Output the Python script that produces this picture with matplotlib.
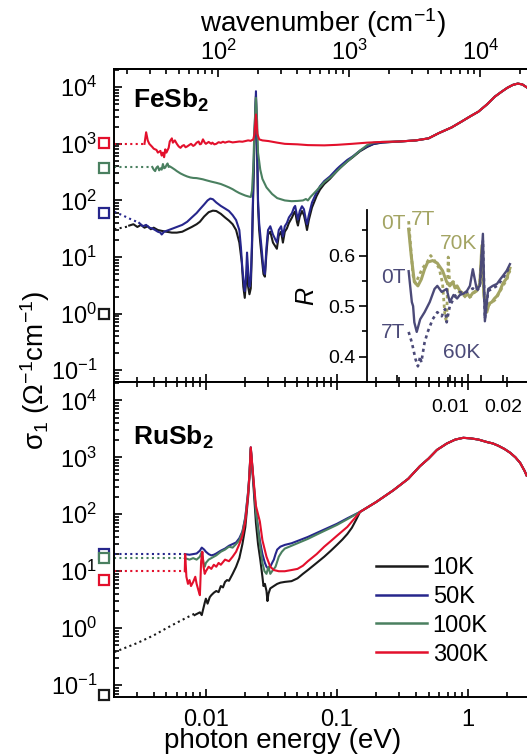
import matplotlib
matplotlib.use("Agg")
import matplotlib.pyplot as plt
import matplotlib.ticker as mticker
from matplotlib.transforms import blended_transform_factory
from matplotlib.lines import Line2D

plt.rcParams['font.family'] = ['Liberation Sans', 'DejaVu Sans']
plt.rcParams['mathtext.fontset'] = 'custom'
plt.rcParams['mathtext.rm'] = 'Liberation Sans'
plt.rcParams['mathtext.it'] = 'Liberation Sans:italic'
plt.rcParams['mathtext.bf'] = 'Liberation Sans:bold'

# ---------------- data ----------------
temps = ['10K', '50K', '100K', '300K']
colors = ['#1a1a1a', '#26268c', '#4a8060', '#e3102c']

# FeSb2 (top panel)
fe_dc = [1.0, 60, 380, 1050]            # squares (10K, 50K, 100K, 300K)
fe_dot_E = [[0.002, 0.0023, 0.0026],
            [0.002, 0.0023, 0.0026, 0.0029, 0.0031],
            [0.002, 0.0039],
            [0.002, 0.0034]]
fe_dot_S = [[31, 33, 35],
            [63, 55, 48, 43, 40],
            [390, 390],
            [1000, 1000]]

hi_E = [0.3, 0.4, 0.5, 0.6, 0.75, 0.9, 1.05, 1.2, 1.4, 1.6, 1.8, 2.0, 2.2, 2.4, 2.6, 2.8]
hi_S = [1100, 1150, 1250, 1550, 1950, 2500, 3100, 3700, 5000, 6800, 8300, 9800, 11000, 11600, 11200, 10000]

fe_E_10K = [0.0026, 0.0028, 0.003, 0.0032, 0.0034, 0.0036, 0.0038, 0.004, 0.0043, 0.0046, 0.005, 0.0055,
            0.006, 0.0066, 0.0072, 0.0078, 0.0085, 0.009, 0.0097, 0.0105, 0.0113, 0.012, 0.013, 0.014,
            0.015, 0.016, 0.017, 0.018, 0.0188, 0.0193, 0.0198, 0.0202, 0.0206, 0.021, 0.0215, 0.022,
            0.0225, 0.023, 0.0235, 0.0241, 0.0246, 0.025, 0.0255, 0.026, 0.0268, 0.0275, 0.0282, 0.029,
            0.0298, 0.031, 0.0325, 0.0348, 0.036, 0.0375, 0.0387, 0.04, 0.0415, 0.043, 0.0454, 0.047,
            0.048, 0.0495, 0.0504, 0.052, 0.0541, 0.056, 0.058, 0.0591, 0.061, 0.0645, 0.07, 0.0742,
            0.08, 0.0883, 0.1, 0.105, 0.12, 0.132, 0.15, 0.17, 0.19, 0.22]
fe_S_10K = [36, 38, 34, 37, 33, 35, 31, 33, 30, 29, 28, 27,
            27, 28, 31, 34, 38, 42, 52, 62, 66, 65, 58, 50,
            44, 38, 30, 18, 8, 3, 1.9, 3.5, 6, 3, 2.2, 2.8,
            15, 150, 1200, 7000, 800, 80, 30, 18, 9, 5, 4.5, 12,
            25, 28, 18, 14, 24, 28, 18, 28, 32, 40, 50, 60,
            64, 42, 36, 52, 65, 55, 38, 30, 45, 75, 120, 155,
            195, 240, 330, 370, 490, 580, 740, 880, 990, 1050]
fe_E_50K = [0.0031, 0.0033, 0.0035, 0.0037, 0.0039, 0.0041, 0.0043, 0.0045, 0.0046, 0.0048, 0.0052, 0.0056,
            0.006, 0.0066, 0.0072, 0.0078, 0.0085, 0.009, 0.0097, 0.0103, 0.0108, 0.0113, 0.012, 0.013,
            0.014, 0.015, 0.016, 0.017, 0.018, 0.0185, 0.019, 0.0195, 0.0198, 0.0202, 0.0206, 0.021,
            0.0215, 0.022, 0.0225, 0.023, 0.0235, 0.0241, 0.0246, 0.025, 0.0255, 0.026, 0.0268, 0.0275,
            0.0282, 0.029, 0.0298, 0.031, 0.0325, 0.0348, 0.036, 0.0375, 0.0387, 0.04, 0.0415, 0.043,
            0.0454, 0.047, 0.048, 0.0495, 0.0504, 0.052, 0.0541, 0.056, 0.058, 0.0591, 0.061, 0.0645,
            0.07, 0.0742, 0.08, 0.0883, 0.1, 0.105, 0.12, 0.132, 0.15, 0.17, 0.19, 0.22]
fe_S_50K = [40, 35, 37, 33, 32, 30, 28, 27, 25, 28, 30, 32,
            34, 37, 42, 50, 60, 70, 85, 100, 108, 105, 92, 80,
            72, 65, 55, 45, 30, 15, 6, 3.5, 2.5, 4, 12, 6,
            3, 4, 20, 200, 1500, 8500, 1000, 100, 40, 25, 12, 6,
            5, 15, 30, 35, 25, 18, 30, 35, 23, 35, 40, 50,
            60, 75, 80, 55, 46, 65, 79, 70, 45, 38, 55, 92,
            140, 178, 220, 265, 360, 400, 520, 600, 760, 900, 1000, 1060]
fe_E_100K = [0.0039, 0.004, 0.0041, 0.0042, 0.0043, 0.0044, 0.0045, 0.0046, 0.0047, 0.0048, 0.0049,
             0.005, 0.0051, 0.0052, 0.0053, 0.0055, 0.0058, 0.006,
             0.0064, 0.0068, 0.0072, 0.0076, 0.008, 0.0085, 0.009, 0.0095, 0.01, 0.011, 0.012, 0.013,
             0.014, 0.015, 0.016, 0.017, 0.018, 0.019, 0.02, 0.021, 0.022, 0.0225, 0.023, 0.0235,
             0.0241, 0.0246, 0.025, 0.026, 0.027, 0.029, 0.032, 0.035, 0.04, 0.045, 0.05, 0.055,
             0.058, 0.06, 0.063, 0.07, 0.08, 0.09, 0.1, 0.11, 0.13, 0.15, 0.17, 0.19, 0.22]
fe_S_100K = [390, 350, 330, 380, 400, 340, 370, 350, 440, 370, 380,
             420, 450, 390, 400, 380, 350, 330,
             300, 280, 265, 255, 250, 248, 242, 236, 228, 215, 205, 195,
             182, 170, 158, 145, 135, 128, 122, 118, 115, 150, 400, 2000,
             6500, 2500, 700, 350, 240, 170, 130, 110, 100, 97, 98, 100,
             106, 100, 116, 150, 210, 260, 330, 410, 570, 760, 950, 1050, 1080]
fe_E_300K = [0.0034, 0.0035, 0.0036, 0.0037, 0.0039, 0.004, 0.0042, 0.0043, 0.0045, 0.0046, 0.0047,
             0.0048, 0.0049, 0.005, 0.0052, 0.0053, 0.0055, 0.0056, 0.0058, 0.006, 0.0062,
             0.0064, 0.0066, 0.0068, 0.007, 0.0072, 0.0075, 0.0077, 0.008, 0.0082, 0.0085, 0.0088,
             0.009, 0.0092, 0.0095, 0.0098, 0.01, 0.0105, 0.011, 0.0112, 0.0116, 0.012,
             0.0125, 0.013, 0.0135, 0.014, 0.0145, 0.015, 0.016, 0.017, 0.018, 0.019, 0.02, 0.021, 0.022,
             0.023, 0.0235, 0.0241, 0.0247, 0.0255, 0.027,
             0.03, 0.035, 0.04, 0.05, 0.06, 0.08, 0.1, 0.13, 0.17, 0.22]
fe_S_300K = [1000, 1600, 1150, 1000, 880, 820, 780, 700, 750, 620, 700,
             580, 800, 700, 850, 1100, 1250, 1050, 1150, 1000, 900,
             850, 920, 950, 870, 900, 960, 1000, 920, 950, 1050, 1100,
             980, 1000, 1200, 1050, 1000, 1080, 1000, 1050, 980, 1000,
             1070, 1040, 1090, 1050, 1080, 1100, 1060, 1080, 1100, 1090, 1120, 1150, 1130,
             1200, 1500, 3300, 1500, 1200, 1150,
             1120, 1050, 1000, 980, 950, 940, 960, 1000, 1050, 1080]

# RuSb2 (bottom panel)
ru_dc = [0.068, 20, 17, 7]
ru_dot_E = [[0.002, 0.003, 0.004, 0.005, 0.006, 0.007, 0.0082],
            [0.002, 0.0069],
            [0.002, 0.0069],
            [0.002, 0.0069]]
ru_dot_S = [[0.38, 0.55, 0.75, 1.0, 1.25, 1.5, 1.8],
            [20, 20],
            [17, 17],
            [10, 10]]

ru_hi_E = [0.15, 0.2, 0.27, 0.35, 0.43, 0.5, 0.58, 0.69, 0.8, 0.92, 1.05, 1.2, 1.4, 1.55, 1.7, 1.9,
           2.1, 2.3, 2.5, 2.7, 2.8]
ru_hi_S = [110, 165, 265, 420, 700, 950, 1350, 1750, 2050, 2200, 2150, 2050, 1850, 1750, 1600, 1400,
           1200, 1000, 800, 580, 480]

ru_E_10K = [0.0082, 0.0086, 0.009, 0.0093, 0.0096, 0.0098, 0.01, 0.0103, 0.0107, 0.011, 0.0115, 0.012,
            0.0125, 0.013, 0.0135, 0.014, 0.0145, 0.015, 0.016, 0.017, 0.018, 0.019, 0.02, 0.021,
            0.0215, 0.022, 0.023, 0.0241, 0.025, 0.026, 0.027, 0.0275, 0.0282, 0.029, 0.0295, 0.03,
            0.031, 0.033, 0.035, 0.037, 0.04, 0.045, 0.05, 0.055, 0.06, 0.07, 0.08, 0.09, 0.1, 0.11,
            0.12, 0.13, 0.14]
ru_S_10K = [1.7, 1.8, 1.9, 1.7, 2.3, 2.8, 3.3, 2.7, 3.5, 3.8, 4.2, 4.5,
            4.3, 5.5, 5.2, 6.5, 7, 6.8, 9, 12, 17, 30, 60, 200,
            450, 1400, 350, 70, 30, 16, 8, 5.5, 6, 4.5, 3, 4,
            5, 5.5, 6, 6.3, 6.5, 6.7, 7.5, 9, 10.5, 14, 18, 23, 29, 36,
            45, 58, 80]
ru_E_50K = [0.0069, 0.0075, 0.008, 0.0085, 0.009, 0.0093, 0.0097, 0.01, 0.0105, 0.011, 0.0115, 0.012,
            0.013, 0.014, 0.015, 0.016, 0.017, 0.018, 0.019, 0.02, 0.021, 0.0215, 0.022, 0.023, 0.0241,
            0.0258, 0.027, 0.0282, 0.029, 0.03, 0.031, 0.032, 0.033, 0.034, 0.035, 0.037, 0.04, 0.045,
            0.05, 0.06, 0.07, 0.08, 0.1, 0.12]
ru_S_50K = [20, 19.5, 20, 20.5, 23, 26, 24, 22, 20, 19, 19.5, 20.5,
            23, 25, 28, 30, 32, 38, 50, 90, 250, 500, 1500, 420, 110,
            35, 20, 14, 12, 11, 12, 14, 16, 20, 24, 27, 29, 31,
            34, 40, 47, 54, 68, 85]
ru_E_100K = [0.0069, 0.0075, 0.008, 0.0085, 0.009, 0.0093, 0.0096, 0.0098, 0.01, 0.0105, 0.011, 0.012,
             0.013, 0.014, 0.015, 0.016, 0.017, 0.018, 0.019, 0.02, 0.021, 0.0215, 0.022, 0.023, 0.0241,
             0.0258, 0.027, 0.028, 0.029, 0.03, 0.031, 0.032, 0.034, 0.036, 0.038, 0.04, 0.045, 0.05,
             0.06, 0.07, 0.08, 0.1, 0.12]
ru_S_100K = [17, 16, 17, 16, 18, 22, 14, 12, 14, 16, 17, 19,
             22, 24, 27, 26, 30, 35, 48, 85, 240, 500, 1450, 420, 110,
             30, 14, 10, 9, 12, 9, 10, 12, 18, 22, 25, 28, 31,
             37, 44, 51, 65, 82]
ru_E_300K = [0.0069, 0.00695, 0.0071, 0.0073, 0.0075, 0.0077, 0.008, 0.0083, 0.0085, 0.0088, 0.009, 0.0092,
             0.0094, 0.0096, 0.0098, 0.01, 0.0105, 0.011, 0.0115, 0.012, 0.0125, 0.013, 0.014, 0.015,
             0.016, 0.017, 0.018, 0.019, 0.02, 0.021, 0.0215, 0.022, 0.023, 0.0241, 0.0258, 0.027,
             0.029, 0.031, 0.033, 0.036, 0.04, 0.045, 0.05, 0.055, 0.06, 0.07, 0.08, 0.09, 0.1, 0.12]
ru_S_300K = [10, 20, 8, 6, 7, 5.5, 6.5, 8, 6, 4.5, 3.8, 15,
             22, 12, 9, 10, 12, 11, 13, 12, 14, 13, 16, 15,
             18, 22, 30, 42, 75, 220, 500, 1500, 450, 140, 75, 35,
             18, 12, 10.5, 10, 10, 10.5, 11, 12.5, 15, 20, 27, 34, 42, 60]

# inset: reflectivity (FeSb2)
in_E_70K_0T = [0.00585, 0.00605, 0.0063, 0.0066, 0.0069, 0.0072, 0.0075, 0.008, 0.0085, 0.0091, 0.0096,
               0.01, 0.0104, 0.0107, 0.011, 0.0114, 0.0118, 0.0122, 0.0126, 0.013, 0.0135, 0.0142,
               0.0148, 0.0152, 0.0156, 0.0162, 0.0167, 0.0173, 0.0179, 0.0185, 0.0192, 0.02, 0.021, 0.0219]
in_R_70K_0T = [0.652, 0.600, 0.548, 0.540, 0.553, 0.573, 0.587, 0.590, 0.585, 0.570, 0.548,
               0.540, 0.548, 0.536, 0.540, 0.530, 0.526, 0.520, 0.524, 0.518, 0.526, 0.530,
               0.545, 0.620, 0.520, 0.488, 0.505, 0.508, 0.515, 0.520, 0.530, 0.545, 0.555, 0.575]
in_E_70K_7T = [0.00585, 0.006, 0.0062, 0.0064, 0.0067, 0.007, 0.0074, 0.0078, 0.0082, 0.0087, 0.0091,
               0.0094, 0.0096, 0.0098, 0.01, 0.0105, 0.011, 0.0117, 0.0125, 0.0133, 0.014, 0.0147,
               0.0152, 0.0156, 0.0162, 0.017, 0.018, 0.019, 0.02, 0.021, 0.0219]
in_R_70K_7T = [0.668, 0.620, 0.560, 0.545, 0.560, 0.575, 0.585, 0.600, 0.590, 0.575, 0.545,
               0.478, 0.470, 0.597, 0.540, 0.548, 0.530, 0.525, 0.515, 0.520, 0.530, 0.540,
               0.600, 0.525, 0.498, 0.505, 0.512, 0.525, 0.540, 0.552, 0.570]
in_E_60K_0T = [0.00585, 0.0061, 0.0062, 0.0063, 0.0065, 0.0068, 0.0072, 0.0077, 0.0082, 0.0085, 0.009,
               0.0096, 0.01, 0.0105, 0.011, 0.0114, 0.012, 0.0125, 0.013, 0.0135, 0.0142, 0.0148,
               0.0154, 0.0158, 0.0165, 0.0175, 0.0185, 0.0192, 0.02, 0.021, 0.0219]
in_R_60K_0T = [0.569, 0.508, 0.500, 0.468, 0.449, 0.474, 0.488, 0.508, 0.534, 0.540, 0.528,
               0.534, 0.508, 0.522, 0.515, 0.522, 0.525, 0.530, 0.540, 0.573, 0.534, 0.540,
               0.643, 0.470, 0.534, 0.540, 0.544, 0.552, 0.560, 0.570, 0.583]
in_E_60K_7T = [0.00585, 0.0061, 0.0064, 0.0066, 0.0068, 0.0069, 0.0072, 0.0075, 0.008, 0.0085, 0.009,
               0.0094, 0.0096, 0.01, 0.0107, 0.0114, 0.012, 0.0128, 0.0135, 0.0142, 0.0148, 0.0154,
               0.0158, 0.0165, 0.0175, 0.0185, 0.02, 0.0219]
in_R_60K_7T = [0.449, 0.428, 0.395, 0.381, 0.400, 0.389, 0.428, 0.449, 0.474, 0.488, 0.480,
               0.494, 0.468, 0.500, 0.520, 0.528, 0.525, 0.530, 0.535, 0.530, 0.538, 0.630,
               0.475, 0.530, 0.535, 0.540, 0.555, 0.578]

olive = '#a3a463'
purple = '#4b4a78'

# ---------------- figure ----------------
W, H = 527, 756
fig = plt.figure(figsize=(W / 100, H / 100), dpi=100)


def fx(px):
    return px / W


def fy(py):
    return 1 - py / H


ax_top = fig.add_axes([fx(114), fy(382), fx(527 - 114), (382 - 69) / H])
ax_bot = fig.add_axes([fx(114), fy(697), fx(527 - 114), (697 - 382) / H])

xlim = (0.00199, 2.82)
ylim = (0.062, 2.1e4)
dot = (0, (1, 1.6))
lw = 1.5

fe_E = [fe_E_10K, fe_E_50K, fe_E_100K, fe_E_300K]
fe_S = [fe_S_10K, fe_S_50K, fe_S_100K, fe_S_300K]
ru_E = [ru_E_10K, ru_E_50K, ru_E_100K, ru_E_300K]
ru_S = [ru_S_10K, ru_S_50K, ru_S_100K, ru_S_300K]

for i in range(4):
    c = colors[i]
    ax_top.plot(fe_dot_E[i], fe_dot_S[i], color=c, lw=lw, ls=dot)
    ax_top.plot(fe_E[i] + hi_E, fe_S[i] + hi_S, color=c, lw=lw)
    ax_bot.plot(ru_dot_E[i], ru_dot_S[i], color=c, lw=lw, ls=dot)
    ax_bot.plot(ru_E[i] + ru_hi_E, ru_S[i] + ru_hi_S, color=c, lw=lw)

for ax, dc in ((ax_top, fe_dc), (ax_bot, ru_dc)):
    tr = blended_transform_factory(ax.transAxes, ax.transData)
    for i in range(4):
        ax.plot([-0.024], [dc[i]], marker='s', ms=7, mfc='white', mec=colors[i], mew=1.6,
                transform=tr, clip_on=False, ls='none')

for ax in (ax_top, ax_bot):
    ax.set_xscale('log')
    ax.set_yscale('log')
    ax.set_xlim(*xlim)
    ax.set_ylim(*ylim)
    ax.spines['right'].set_visible(False)
    for s in ax.spines.values():
        s.set_linewidth(1.4)
    ax.yaxis.set_major_locator(mticker.LogLocator(base=10, numticks=20))
    ax.yaxis.set_minor_locator(mticker.LogLocator(base=10, subs=range(2, 10), numticks=20))
    ax.yaxis.set_minor_formatter(mticker.NullFormatter())
    ax.xaxis.set_major_locator(mticker.FixedLocator([0.01, 0.1, 1]))
    ax.xaxis.set_minor_locator(mticker.LogLocator(base=10, subs=range(2, 10), numticks=20))
    ax.xaxis.set_minor_formatter(mticker.NullFormatter())
    ax.tick_params(which='both', direction='in', width=1.2, labelsize=17)
    ax.tick_params(which='major', length=6)
    ax.tick_params(which='minor', length=3.3)
    ax.tick_params(axis='y', which='both', left=True, right=False, pad=12)

ax_top.tick_params(axis='x', which='both', bottom=True, top=False, labelbottom=False)
ax_bot.tick_params(axis='x', which='both', bottom=True, top=True, labelbottom=True, pad=9)
ax_bot.xaxis.set_major_formatter(mticker.FixedFormatter(['0.01', '0.1', '1']))

sec = ax_top.secondary_xaxis('top', functions=(lambda e: e * 8065.54, lambda w: w / 8065.54))
sec.xaxis.set_major_locator(mticker.FixedLocator([1e2, 1e3, 1e4]))
sec.xaxis.set_major_formatter(mticker.FixedFormatter(['$10^{2}$', '$10^{3}$', '$10^{4}$']))
sec.xaxis.set_minor_locator(mticker.FixedLocator(
    [m * 10 ** k for k in (1, 2, 3, 4) for m in range(2, 10) if 16 < m * 10 ** k < 22700]))
sec.xaxis.set_minor_formatter(mticker.NullFormatter())
sec.tick_params(which='both', direction='in', width=1.2, labelsize=17, pad=3)
sec.tick_params(which='major', length=6)
sec.tick_params(which='minor', length=3.3)
sec.spines['top'].set_linewidth(1.4)

fig.text(fx(323), fy(23), 'wavenumber (cm$^{-1}$)', ha='center', va='center', fontsize=20)
fig.text(fx(283), fy(748), 'photon energy (eV)', ha='center', va='baseline', fontsize=20)
fig.text(fx(35), fy(370), 'σ$_1$ (Ω$^{-1}$cm$^{-1}$)', ha='center', va='center', rotation=90, fontsize=20)
fig.text(fx(133), fy(100), r'$\mathbf{FeSb_2}$', ha='left', va='center', fontsize=19)
fig.text(fx(133), fy(437), r'$\mathbf{RuSb_2}$', ha='left', va='center', fontsize=19)

handles = [Line2D([], [], color=c, lw=1.8) for c in colors]
ax_bot.legend(handles, temps, loc='upper left', bbox_to_anchor=(fx(376), fy(557)),
              bbox_transform=fig.transFigure, frameon=False, fontsize=17, handlelength=2.15,
              handletextpad=0.25, labelspacing=0.29, borderpad=0, borderaxespad=0)

# inset
ins = fig.add_axes([fx(367), fy(382), fx(512 - 367), (382 - 210) / H])
ins.patch.set_alpha(0)
ins.plot(in_E_70K_0T, in_R_70K_0T, color=olive, lw=2.2)
ins.plot(in_E_70K_7T, in_R_70K_7T, color=olive, lw=2.0, ls=(0, (1.2, 1.2)))
ins.plot(in_E_60K_0T, in_R_60K_0T, color=purple, lw=1.7)
ins.plot(in_E_60K_7T, in_R_60K_7T, color=purple, lw=1.9, ls=(0, (1.2, 1.4)))
ins.set_xscale('log')
ins.set_xlim(0.0034, 0.0225)
ins.set_ylim(0.35, 0.69)
ins.spines['top'].set_visible(False)
ins.spines['right'].set_visible(False)
for s in ins.spines.values():
    s.set_linewidth(1.3)
ins.xaxis.set_major_locator(mticker.FixedLocator([0.01, 0.02]))
ins.xaxis.set_major_formatter(mticker.FixedFormatter(['0.01', '0.02']))
ins.xaxis.set_minor_locator(mticker.FixedLocator([0.005, 0.015]))
ins.xaxis.set_minor_formatter(mticker.NullFormatter())
ins.yaxis.set_major_locator(mticker.FixedLocator([0.4, 0.5, 0.6]))
ins.yaxis.set_major_formatter(mticker.FixedFormatter(['0.4', '0.5', '0.6']))
ins.yaxis.set_minor_locator(mticker.FixedLocator([0.45, 0.55, 0.65]))
ins.tick_params(axis='x', which='both', direction='in', length=5, width=1.2, labelsize=14, pad=12)
ins.tick_params(axis='y', which='major', direction='out', length=5.5, width=1.2, labelsize=14, pad=3)
ins.tick_params(axis='y', which='minor', direction='out', length=3.5, width=1.2)
ins.set_ylabel('R', fontstyle='italic', fontsize=18, labelpad=7)

ins.text(0.18, 0.924, '0T', transform=ins.transAxes, color=olive, fontsize=15, ha='center', va='center')
ins.text(0.39, 0.942, '7T', transform=ins.transAxes, color=olive, fontsize=15, ha='center', va='center')
ins.text(0.63, 0.808, '70K', transform=ins.transAxes, color=olive, fontsize=15, ha='center', va='center')
ins.text(0.18, 0.605, '0T', transform=ins.transAxes, color=purple, fontsize=15, ha='center', va='center')
ins.text(0.18, 0.285, '7T', transform=ins.transAxes, color=purple, fontsize=15, ha='center', va='center')
ins.text(0.655, 0.174, '60K', transform=ins.transAxes, color=purple, fontsize=15, ha='center', va='center')

fig.savefig('out.png', dpi=100)
